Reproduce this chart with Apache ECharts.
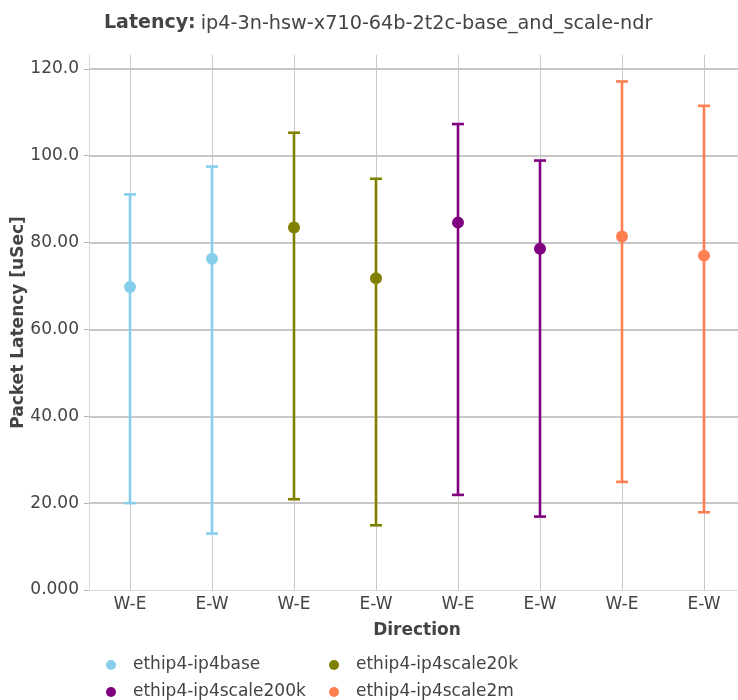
<!DOCTYPE html>
<html>
<head>
<meta charset="utf-8">
<script src="https://cdn.jsdelivr.net/npm/echarts@6/dist/echarts.min.js"></script>
<style>html,body{margin:0;padding:0;background:#fff}#c{width:738px;height:700px}</style>
</head>
<body>
<div id="c"></div>
<script>
const categories = ["W-E", "E-W", "W-E", "E-W", "W-E", "E-W", "W-E", "E-W"];
const yTicks = [0, 20, 40, 60, 80, 100, 120];
const seriesNames = ["ethip4-ip4base", "ethip4-ip4scale20k", "ethip4-ip4scale200k", "ethip4-ip4scale2m"];
const seriesColors = ["#87CEEB", "#808000", "#800080", "#FF7F50"];

const baseIdx = [0, 1];
const baseAvg = [69.8, 76.3];
const baseMin = [20.0, 13.0];
const baseMax = [91.1, 97.5];

const scale20kIdx = [2, 3];
const scale20kAvg = [83.5, 71.8];
const scale20kMin = [20.9, 14.9];
const scale20kMax = [105.3, 94.7];

const scale200kIdx = [4, 5];
const scale200kAvg = [84.6, 78.6];
const scale200kMin = [21.9, 16.9];
const scale200kMax = [107.3, 98.9];

const scale2mIdx = [6, 7];
const scale2mAvg = [81.4, 77.0];
const scale2mMin = [24.9, 17.9];
const scale2mMax = [117.1, 111.5];

const groups = [
  [baseIdx, baseAvg, baseMin, baseMax],
  [scale20kIdx, scale20kAvg, scale20kMin, scale20kMax],
  [scale200kIdx, scale200kAvg, scale200kMin, scale200kMax],
  [scale2mIdx, scale2mAvg, scale2mMin, scale2mMax]
];

const FONT = "DejaVu Sans";
const TXT = "#444";

function fmt(v) {
  if (v === 0) return "0.000";
  if (yTicks.indexOf(v) < 0) return "";
  return v >= 100 ? v.toFixed(1) : v.toFixed(2);
}

const series = [];

groups.forEach(function (g, k) {
  const color = seriesColors[k];
  series.push({
    name: seriesNames[k],
    type: "custom",
    z: 6,
    itemStyle: { color: color },
    data: g[0].map(function (x, i) { return [x, g[2][i], g[3][i]]; }),
    encode: { x: 0, y: [1, 2] },
    renderItem: function (params, api) {
      const lo = api.coord([api.value(0), api.value(1)]);
      const hi = api.coord([api.value(0), api.value(2)]);
      const hw = 6;
      const st = { stroke: color, lineWidth: 2.6 };
      return {
        type: "group",
        children: [
          { type: "line", shape: { x1: lo[0], y1: lo[1], x2: hi[0], y2: hi[1] }, style: st },
          { type: "line", shape: { x1: lo[0] - hw, y1: lo[1], x2: lo[0] + hw, y2: lo[1] }, style: st },
          { type: "line", shape: { x1: hi[0] - hw, y1: hi[1], x2: hi[0] + hw, y2: hi[1] }, style: st }
        ]
      };
    }
  });
  series.push({
    name: seriesNames[k],
    type: "scatter",
    z: 7,
    symbol: "circle",
    symbolSize: 12,
    itemStyle: { color: color, opacity: 1 },
    data: g[0].map(function (x, i) { return [x, g[1][i]]; })
  });
});

// vertical grid lines at category centres (drawn beneath the marks)
series.push({
  type: "line",
  z: 1,
  data: [],
  silent: true,
  itemStyle: { color: "#c9c9c9" },
  markLine: {
    silent: true,
    z: 1,
    symbol: "none",
    label: { show: false },
    lineStyle: { color: "#c9c9c9", width: 1, type: "solid" },
    animation: false,
    data: categories.map(function (c, i) { return { xAxis: i }; })
  }
});

function legendItem(name, left, top) {
  return {
    orient: "horizontal",
    left: left,
    top: top,
    icon: "circle",
    itemWidth: 10,
    itemHeight: 10,
    padding: 0,
    data: [name],
    textStyle: { fontFamily: FONT, fontSize: 17, color: TXT, lineHeight: 20, padding: [0, 0, 0, 12] }
  };
}

const chart = echarts.init(document.getElementById("c"), null, { renderer: "canvas" });
chart.setOption({
  animation: false,
  backgroundColor: "#fff",
  color: seriesColors,
  title: {
    left: 99,
    top: 9,
    text: "{b|Latency:} {n|ip4-3n-hsw-x710-64b-2t2c-base_and_scale-ndr}",
    textStyle: {
      fontWeight: "normal",
      rich: {
        b: { fontFamily: FONT, fontSize: 19, fontWeight: "bold", color: TXT },
        n: { fontFamily: FONT, fontSize: 19.25, fontWeight: "normal", color: TXT }
      }
    }
  },
  legend: [
    legendItem(seriesNames[0], 106, 655),
    legendItem(seriesNames[2], 106, 682),
    legendItem(seriesNames[1], 329, 655),
    legendItem(seriesNames[3], 329, 682)
  ],
  grid: { left: 89, top: 55, width: 656, height: 535, containLabel: false, outerBoundsMode: "none" },
  xAxis: {
    type: "category",
    data: categories,
    boundaryGap: true,
    name: "Direction",
    nameLocation: "middle",
    nameGap: 32,
    nameMoveOverlap: false,
    nameTextStyle: { fontFamily: FONT, fontSize: 17, fontWeight: "bold", color: TXT },
    axisLine: { show: true, lineStyle: { color: "#d9d9d9", width: 1 } },
    axisTick: { show: false },
    axisLabel: { fontFamily: FONT, fontSize: 17, color: TXT, margin: 6 },
    splitLine: { show: false }
  },
  yAxis: {
    type: "value",
    min: 0,
    max: 123.2,
    interval: 20,
    name: "Packet Latency [uSec]",
    nameLocation: "middle",
    nameGap: 62,
    nameMoveOverlap: false,
    nameTextStyle: { fontFamily: FONT, fontSize: 17, fontWeight: "bold", color: TXT },
    axisLine: { show: true, lineStyle: { color: "#d9d9d9", width: 1 } },
    axisTick: { show: true, length: 5, lineStyle: { color: "#b3b3b3" } },
    axisLabel: { fontFamily: FONT, fontSize: 17, color: TXT, margin: 10, formatter: fmt, showMaxLabel: false },
    splitLine: { show: true, showMinLine: false, showMaxLine: false, lineStyle: { color: "#b5b5b5", width: 1.5 } }
  },
  series: series
});
</script>
</body>
</html>
